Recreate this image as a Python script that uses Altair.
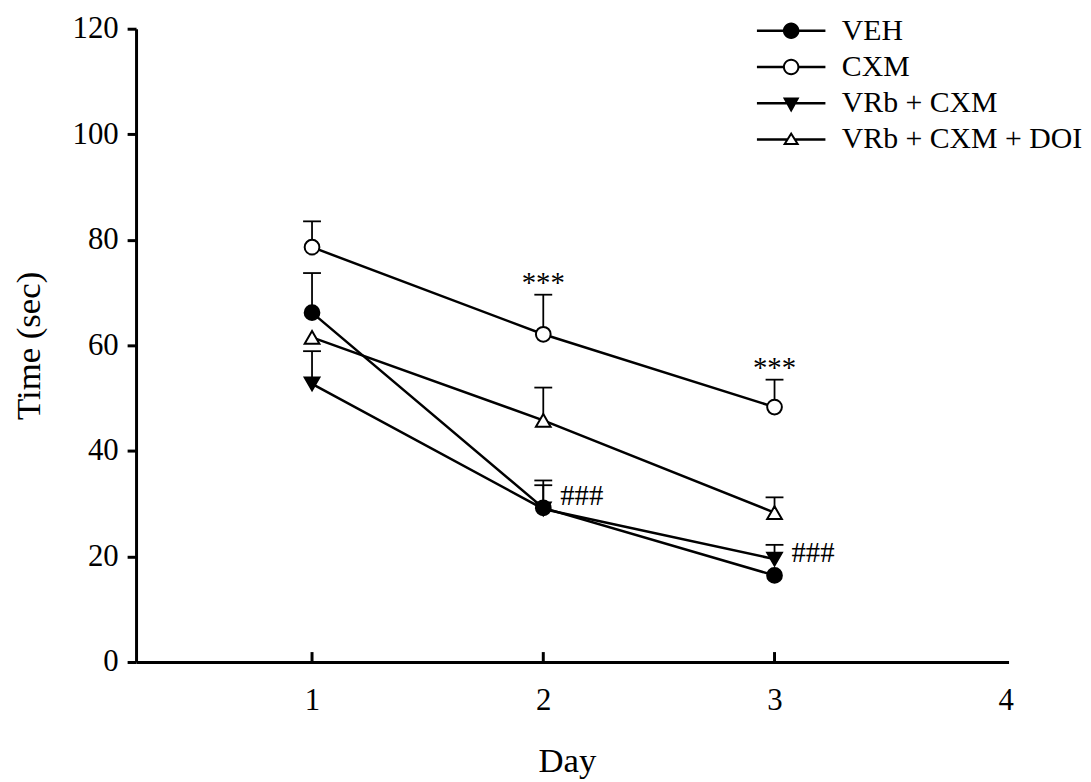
import altair as alt
import pandas as pd

# ---- data ----
days = [1, 2, 3]
series = ["VEH", "CXM", "VRb + CXM", "VRb + CXM + DOI"]
means = {
    "VEH": [66.2, 29.2, 16.4],
    "CXM": [78.6, 62.1, 48.3],
    "VRb + CXM": [52.7, 29.0, 19.5],
    "VRb + CXM + DOI": [61.5, 45.8, 28.3],
}
sems = {
    "VEH": [7.5, 5.2, None],
    "CXM": [4.9, 7.5, 5.2],
    "VRb + CXM": [6.2, 4.5, 2.7],
    "VRb + CXM + DOI": [None, 6.2, 2.9],
}
marker_shapes = ["circle", "circle", "triangle-down", "triangle-up"]
marker_fills = ["black", "white", "black", "white"]
star_days = [2, 3]
star_values = [69.6, 53.5]
hash_days = [2, 3]
hash_values = [29.8, 19.0]
x_tick_values = [1, 2, 3, 4]
x_tick_marks = [1, 2, 3]
y_tick_values = [0, 20, 40, 60, 80, 100, 120]

FONT = "Liberation Serif"

rows = []
for s in series:
    for d, m, e in zip(days, means[s], sems[s]):
        rows.append({"series": s, "day": d, "mean": m,
                     "top": (m + e) if e is not None else None})
df = pd.DataFrame(rows)
df_err = df.dropna(subset=["top"])
stars = pd.DataFrame({"day": star_days, "v": star_values, "t": ["***"] * 2})
hashes = pd.DataFrame({"day": hash_days, "v": hash_values, "t": ["###"] * 2})
ticks = pd.DataFrame({"day": x_tick_marks, "v": [0] * len(x_tick_marks)})

xscale = alt.Scale(domain=[0.239, 4.012], nice=False, zero=False)
yscale = alt.Scale(domain=[0, 120], nice=False)

X = alt.X("day:Q", scale=xscale, title="Day",
          axis=alt.Axis(values=x_tick_values, format="d", ticks=False, tickSize=0,
                        domainWidth=3, labelBaseline="alphabetic", labelPadding=48,
                        labelFlush=False, titleX=434, titleY=110,
                        titleBaseline="alphabetic", titleAlign="center"))
Y = alt.Y("mean:Q", scale=yscale, title="Time (sec)",
          axis=alt.Axis(values=y_tick_values, tickSize=9, tickWidth=3, domainWidth=3,
                        labelPadding=9, titleX=-97, titleY=319, titleAngle=270,
                        titleBaseline="alphabetic", titleAlign="center"))

# legend symbols (filled outlines): a line segment with the marker in its middle.
# Path units are sqrt(size)/2 pixels; shapes are described in pixels and scaled.
LEG_SIZE = 900
U = (LEG_SIZE ** 0.5) / 2.0


def p(v):
    return f"{v / U:.4f}"


def rect(x0, x1, h=1.25):
    return f"M{p(x0)},{p(-h)}H{p(x1)}V{p(h)}H{p(x0)}Z"


def circ(r, cw=True):
    sw = 1 if cw else 0
    return (f"M{p(r)},0A{p(r)},{p(r)},0,1,{sw},{p(-r)},0"
            f"A{p(r)},{p(r)},0,1,{sw},{p(r)},0Z")


def tri(pts):
    (a, b), (c, d), (e, f) = pts
    return f"M{p(a)},{p(b)}L{p(c)},{p(d)}L{p(e)},{p(f)}Z"


HALF = 34.5
leg_paths = [
    rect(-HALF, HALF) + " " + circ(8.3),
    rect(-HALF, -7.2) + " " + rect(7.2, HALF) + " " + circ(8.3) + " " + circ(6.3, cw=False),
    rect(-HALF, HALF) + " " + tri([(-8.35, -5.6), (8.35, -5.6), (0, 9.4)]),
    rect(-HALF, -3.8) + " " + rect(3.8, HALF) + " "
    + tri([(0, -7.6), (8.35, 5.7), (-8.35, 5.7)]) + " "
    + tri([(0, -3.83), (-4.73, 3.7), (4.73, 3.7)]),
]

base = alt.Chart(df)

err_rule = alt.Chart(df_err).mark_rule(color="black", strokeWidth=1.8).encode(
    x=X, y=Y, y2="top:Q")
err_cap = alt.Chart(df_err).mark_tick(color="black", orient="horizontal", size=18,
                                      thickness=1.8, opacity=1).encode(
    x="day:Q", y=alt.Y("top:Q", scale=yscale))
lines = base.mark_line(color="black", strokeWidth=2.5).encode(
    x="day:Q", y="mean:Q", detail="series:N")

point_layers = []
for s, shp, fl in zip(series, marker_shapes, marker_fills):
    point_layers.append(
        base.transform_filter(alt.datum.series == s).mark_point(
            shape=shp, fill=fl, fillOpacity=1, stroke="black", strokeWidth=2,
            size=220, opacity=1).encode(x="day:Q", y="mean:Q"))

legend_layer = base.transform_filter("false").mark_point(
    filled=True, color="black", size=LEG_SIZE, opacity=1).encode(
    x="day:Q", y="mean:Q",
    shape=alt.Shape("series:N", scale=alt.Scale(domain=series, range=leg_paths),
                    legend=alt.Legend(title=None, orient="none", legendX=645, legendY=-13,
                                      symbolSize=LEG_SIZE, symbolStrokeWidth=0,
                                      symbolFillColor="black", symbolOpacity=1,
                                      labelFont=FONT, labelFontSize=30,
                                      labelColor="black", labelLimit=0,
                                      labelOffset=36, rowPadding=6.5, padding=0)))

tick_marks = alt.Chart(ticks).mark_tick(color="black", orient="vertical", size=10,
                                        thickness=3, yOffset=-5, opacity=1).encode(
    x="day:Q", y=alt.Y("v:Q", scale=yscale))
star_text = alt.Chart(stars).mark_text(font=FONT, fontSize=29, color="black",
                                       baseline="alphabetic", align="center", dy=-3).encode(
    x="day:Q", y=alt.Y("v:Q", scale=yscale), text="t:N")
hash_text = alt.Chart(hashes).mark_text(font=FONT, fontSize=29, color="black",
                                        baseline="alphabetic", align="left", dx=17).encode(
    x="day:Q", y=alt.Y("v:Q", scale=yscale), text="t:N")

chart = alt.layer(err_rule, err_cap, lines, *point_layers, legend_layer, tick_marks,
                  star_text, hash_text).properties(
    width=879, height=638,
    autosize=alt.AutoSizeParams(type="none"),
    padding={"left": 129, "top": 18, "right": 75, "bottom": 116},
).configure_view(stroke=None).configure_axis(
    grid=False, domainColor="black", tickColor="black", labelColor="black",
    titleColor="black", labelFont=FONT, labelFontSize=31, titleFont=FONT,
    titleFontSize=35, titleFontWeight="normal",
)

chart.save("out.html", embed_options={"renderer": "svg", "actions": False})
